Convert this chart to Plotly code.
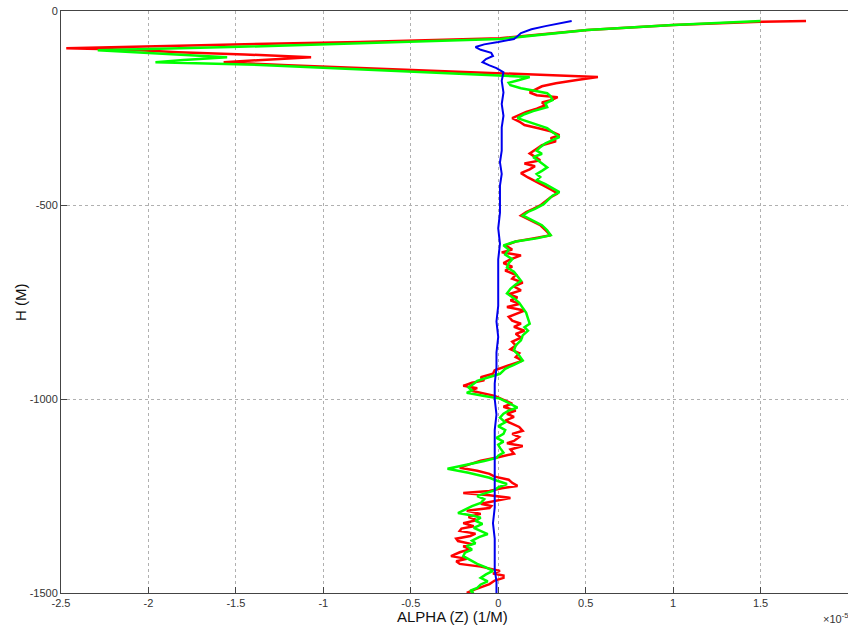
import plotly.graph_objects as go

# Depth (m) and ALPHA values (x 1e-5 1/M)
red_h = [-26, -28, -36, -49, -70, -80, -88, -96, -100, -106, -112, -119, -126, -132, -140, -147, -158, -170,
         -178, -186, -194, -204, -210, -217, -222, -230, -236, -243, -252, -260, -268, -276, -285, -294, -302,
         -310, -320, -328, -336, -346, -355, -367, -376, -385, -393, -400, -408, -418, -429, -440, -450, -460,
         -470, -480, -490, -501, -510, -518, -527, -540, -552, -565, -578, -586, -594, -604, -615, -622, -630,
         -640, -650, -659, -669, -680, -690, -700, -710, -720, -730, -738, -746, -755, -763, -772, -780, -788,
         -798, -806, -814, -824, -832, -842, -852, -862, -872, -882, -892, -901, -910, -918, -926, -935, -944,
         -952, -958, -966, -972, -978, -984, -992, -1004, -1012, -1020, -1030, -1038, -1046, -1056, -1064,
         -1072, -1082, -1090, -1098, -1108, -1114, -1121, -1130, -1141, -1150, -1159, -1168, -1177, -1185,
         -1193, -1200, -1208, -1216, -1224, -1230, -1237, -1242, -1248, -1255, -1262, -1270, -1276, -1281,
         -1288, -1296, -1304, -1312, -1320, -1328, -1334, -1340, -1347, -1353, -1360, -1366, -1374, -1380,
         -1387, -1395, -1405, -1412, -1418, -1425, -1432, -1437, -1443, -1450, -1455, -1461, -1468, -1477,
         -1485, -1492, -1500]
red_a = [1.76, 1.50, 1.00, 0.51, 0.01, -0.79, -1.70, -2.47, -2.10, -1.83, -1.45, -1.07, -1.35, -1.57, -1.20,
         -0.79, -0.10, 0.57, 0.45, 0.33, 0.25, 0.20, 0.18, 0.22, 0.34, 0.30, 0.25, 0.27, 0.22, 0.16, 0.12, 0.08,
         0.12, 0.15, 0.23, 0.30, 0.35, 0.30, 0.33, 0.25, 0.22, 0.18, 0.21, 0.24, 0.15, 0.21, 0.18, 0.13, 0.17,
         0.22, 0.26, 0.30, 0.34, 0.30, 0.27, 0.24, 0.20, 0.16, 0.13, 0.19, 0.24, 0.27, 0.30, 0.20, 0.10, 0.04,
         0.08, 0.02, 0.13, 0.07, 0.03, 0.08, 0.04, 0.10, 0.08, 0.14, 0.09, 0.13, 0.06, 0.11, 0.07, 0.12, 0.05,
         0.15, 0.10, 0.06, 0.08, 0.13, 0.09, 0.15, 0.10, 0.13, 0.08, 0.10, 0.07, 0.12, 0.10, 0.14, 0.08, 0.03,
         -0.02, -0.03, -0.10, -0.08, -0.15, -0.20, -0.12, -0.16, -0.10, -0.02, 0.04, 0.08, 0.03, 0.10, 0.05,
         0.09, 0.04, 0.08, 0.12, 0.14, 0.08, 0.12, 0.09, 0.05, 0.14, 0.07, 0.09, 0.00, -0.10, -0.16, -0.22,
         -0.12, -0.05, -0.02, 0.06, 0.08, 0.11, 0.02, -0.05, -0.20, -0.05, 0.07, -0.02, -0.10, -0.04, -0.05,
         -0.18, -0.10, -0.17, -0.12, -0.20, -0.14, -0.21, -0.22, -0.13, -0.16, -0.24, -0.23, -0.15, -0.20,
         -0.16, -0.22, -0.27, -0.18, -0.24, -0.22, -0.10, -0.04, 0.01, -0.03, 0.03, 0.03, -0.02, -0.05, -0.10,
         -0.14, -0.18]

green_h = [-26, -36, -49, -72, -83, -93, -101, -110, -119, -126, -132, -139, -150, -160, -170, -178, -185, -191,
           -199, -205, -212, -220, -230, -238, -248, -258, -266, -276, -285, -294, -302, -312, -325, -333, -341,
           -351, -360, -368, -377, -386, -395, -403, -412, -420, -428, -436, -446, -456, -467, -476, -488, -498,
           -510, -518, -527, -540, -552, -565, -578, -586, -594, -604, -615, -628, -640, -650, -661, -672, -684,
           -695, -705, -716, -728, -740, -752, -764, -778, -792, -806, -815, -824, -836, -849, -862, -875, -888,
           -901, -912, -922, -935, -946, -953, -961, -970, -978, -984, -992, -999, -1008, -1015, -1022, -1030,
           -1038, -1048, -1060, -1070, -1080, -1090, -1100, -1110, -1118, -1126, -1138, -1146, -1152, -1160,
           -1167, -1173, -1180, -1190, -1197, -1203, -1210, -1219, -1228, -1237, -1244, -1250, -1258, -1268,
           -1276, -1286, -1294, -1300, -1306, -1314, -1322, -1332, -1340, -1348, -1356, -1365, -1372, -1379,
           -1388, -1396, -1405, -1414, -1425, -1434, -1443, -1452, -1461, -1470, -1478, -1487, -1494, -1500]
green_a = [1.50, 1.00, 0.51, 0.01, -0.79, -1.53, -2.29, -1.90, -1.55, -1.80, -1.96, -1.36, -0.79, -0.30, 0.18,
           0.12, 0.06, 0.07, 0.13, 0.20, 0.28, 0.30, 0.31, 0.27, 0.28, 0.20, 0.15, 0.11, 0.17, 0.24, 0.28, 0.31,
           0.35, 0.31, 0.27, 0.24, 0.22, 0.25, 0.20, 0.23, 0.26, 0.28, 0.25, 0.22, 0.24, 0.22, 0.27, 0.31, 0.35,
           0.31, 0.28, 0.26, 0.21, 0.17, 0.14, 0.20, 0.25, 0.28, 0.30, 0.22, 0.10, 0.03, 0.06, 0.04, 0.08, 0.06,
           0.05, 0.09, 0.11, 0.13, 0.10, 0.07, 0.05, 0.09, 0.12, 0.14, 0.16, 0.17, 0.18, 0.15, 0.17, 0.14, 0.13,
           0.10, 0.09, 0.12, 0.14, 0.09, 0.04, 0.01, -0.07, -0.12, -0.14, -0.17, -0.15, -0.18, -0.08, 0.01, 0.05,
           0.08, 0.11, 0.06, 0.03, 0.01, 0.04, 0.00, 0.04, 0.03, -0.01, 0.03, 0.00, 0.01, 0.03, 0.00, -0.01,
           -0.08, -0.16, -0.23, -0.29, -0.17, -0.10, -0.05, -0.01, 0.05, 0.00, -0.03, -0.08, -0.12, -0.08, -0.10,
           -0.15, -0.19, -0.23, -0.15, -0.10, -0.13, -0.09, -0.14, -0.10, -0.06, -0.11, -0.15, -0.13, -0.18,
           -0.15, -0.19, -0.20, -0.16, -0.12, -0.07, -0.03, -0.07, -0.10, -0.06, -0.10, -0.12, -0.16, -0.14]

blue_h = [-26, -32, -39, -47, -57, -65, -72, -80, -86, -93, -100, -108, -116, -124, -132, -140, -147, -158,
          -180, -210, -240, -270, -300, -330, -360, -390, -420, -450, -488, -520, -560, -600, -640, -680, -720,
          -760, -800, -840, -880, -920, -960, -1000, -1040, -1080, -1120, -1160, -1200, -1240, -1280, -1320,
          -1360, -1400, -1440, -1470, -1500]
blue_a = [0.42, 0.34, 0.27, 0.19, 0.13, 0.11, 0.09, 0.00, -0.08, -0.13, -0.10, -0.04, -0.03, -0.07, -0.09,
          -0.05, -0.01, 0.03, 0.02, 0.03, 0.02, 0.03, 0.02, 0.02, 0.02, 0.01, 0.02, 0.01, 0.01, 0.01, 0.00,
          0.01, 0.00, 0.00, 0.00, 0.00, -0.01, 0.00, -0.01, -0.01, -0.02, -0.02, -0.01, -0.02, -0.02, -0.02,
          -0.02, -0.02, -0.02, -0.03, -0.02, -0.02, -0.02, -0.01, -0.01]

x_ticks = [-2.5, -2, -1.5, -1, -0.5, 0, 0.5, 1, 1.5, 2]
x_tick_labels = ["-2.5", "-2", "-1.5", "-1", "-0.5", "0", "0.5", "1", "1.5", "2"]
y_ticks = [-1500, -1000, -500, 0]
y_tick_labels = ["-1500", "-1000", "-500", "0"]

fig = go.Figure()
fig.add_trace(go.Scatter(x=red_a, y=red_h, mode="lines", line=dict(color="#ff0000", width=2.5), showlegend=False))
fig.add_trace(go.Scatter(x=green_a, y=green_h, mode="lines", line=dict(color="#00ff00", width=2.5), showlegend=False))
fig.add_trace(go.Scatter(x=blue_a, y=blue_h, mode="lines", line=dict(color="#0000ee", width=2), showlegend=False))

axis_common = dict(
    showgrid=True, gridcolor="#b0b0b0", griddash="dot", gridwidth=1,
    zeroline=False, showline=True, linecolor="#444444", linewidth=1, mirror=True,
    ticks="inside", ticklen=6, tickcolor="#444444", automargin=False,
    tickfont=dict(family="Liberation Sans, Arial", size=11, color="#333333"),
)
fig.update_xaxes(range=[-2.5, 2], tickvals=x_ticks, ticktext=x_tick_labels, ticklabelstandoff=0, **axis_common)
fig.update_yaxes(range=[-1500, 0], tickvals=y_ticks, ticktext=y_tick_labels, **axis_common)

fig.update_layout(
    width=848, height=625,
    margin=dict(l=61, r=0, t=11, b=32),
    plot_bgcolor="white", paper_bgcolor="white",
    annotations=[
        dict(text="ALPHA (Z) (1/M)", xref="paper", yref="paper", x=0.497, y=-0.023, xanchor="center", yanchor="top",
             showarrow=False, font=dict(family="Liberation Sans, Arial", size=15, color="#111111")),
        dict(text="H (M)", xref="paper", yref="paper", x=-0.052, y=0.5, textangle=-90, xanchor="center",
             yanchor="middle", showarrow=False, font=dict(family="Liberation Sans, Arial", size=15, color="#111111")),
        dict(text="×10<sup>-5</sup>", xref="paper", yref="paper", x=0.966, y=-0.058, xanchor="left",
             yanchor="bottom", showarrow=False, font=dict(family="Liberation Sans, Arial", size=11, color="#333333")),
    ],
)

fig.write_html("out.html", config={"displayModeBar": False},
               post_script="document.body.style.margin='0';")
